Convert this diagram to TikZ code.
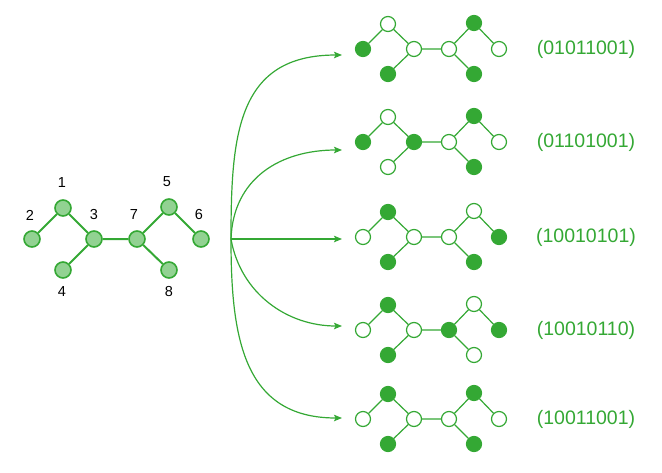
\documentclass[tikz,border=0pt]{standalone}
\usepackage{fontspec}
\setmainfont{Liberation Sans}
\usetikzlibrary{arrows.meta}
\definecolor{gr}{RGB}{52,168,52}
\definecolor{grl}{RGB}{146,210,146}
\tikzset{
  x=1pt,y=1pt,
  big/.style={circle,draw=gr,fill=grl,line width=1.6pt,minimum size=16pt,inner sep=0pt},
  bigedge/.style={gr,line width=2pt},
  lab/.style={font=\fontsize{14.5}{16}\selectfont,text=black},
  s0/.style={circle,draw=gr,fill=white,line width=1.2pt,minimum size=15pt,inner sep=0pt},
  s1/.style={circle,draw=gr,fill=gr,line width=1.2pt,minimum size=15pt,inner sep=0pt},
  smedge/.style={gr,line width=1.2pt},
  code/.style={font=\fontsize{19.5}{22}\selectfont,text=gr},
  arr/.style={gr,line width=1.2pt,-{Stealth[length=8pt,width=6.5pt,inset=1.5pt]}}
}
% #1 = row y, #2..#9 = bits for nodes 1..8
\newcommand\molrow[9]{%
  \begin{scope}[shift={(414,-#1)}]
    \node[s#2] (r#1n1) at (-26,25) {};
    \node[s#3] (r#1n2) at (-51,0) {};
    \node[s#4] (r#1n3) at (0,0) {};
    \node[s#5] (r#1n4) at (-26,-25) {};
    \node[s#6] (r#1n5) at (60,26) {};
    \node[s#7] (r#1n6) at (85,0) {};
    \node[s#8] (r#1n7) at (35,0) {};
    \node[s#9] (r#1n8) at (60,-25) {};
    \draw[smedge] (r#1n2)--(r#1n1) (r#1n1)--(r#1n3) (r#1n3)--(r#1n4) (r#1n3)--(r#1n7)
      (r#1n7)--(r#1n5) (r#1n5)--(r#1n6) (r#1n7)--(r#1n8);
    \node[code] (r#1code) at (172,0) {(#2#3#4#5#6#7#8#9)};
  \end{scope}}
\begin{document}
\begin{tikzpicture}
\useasboundingbox (0,0) rectangle (662,-472);
% left graph
\node[big] (n1) at (63,-208) {};
\node[big] (n2) at (32,-239) {};
\node[big] (n3) at (94,-239) {};
\node[big] (n4) at (63,-270) {};
\node[big] (n7) at (137,-239) {};
\node[big] (n5) at (169,-207) {};
\node[big] (n6) at (201,-239) {};
\node[big] (n8) at (169,-270) {};
\draw[bigedge] (n2)--(n1) (n1)--(n3) (n3)--(n4) (n3)--(n7) (n7)--(n5) (n5)--(n6) (n7)--(n8);
\node[lab] (l1) at (62,-183) {1};
\node[lab] (l2) at (30,-215) {2};
\node[lab] (l3) at (94,-215) {3};
\node[lab] (l7) at (134,-215) {7};
\node[lab] (l5) at (167,-182) {5};
\node[lab] (l6) at (199,-215) {6};
\node[lab] (l4) at (62,-292) {4};
\node[lab] (l8) at (169,-292) {8};
% right rows
\molrow{49}{0}{1}{0}{1}{1}{0}{0}{1}
\molrow{142}{0}{1}{1}{0}{1}{0}{0}{1}
\molrow{237}{1}{0}{0}{1}{0}{1}{0}{1}
\molrow{330}{1}{0}{0}{1}{0}{1}{1}{0}
\molrow{419}{1}{0}{0}{1}{1}{0}{0}{1}
% arrows
\coordinate (hub) at (231,-239);
\coordinate (a1) at (342,-55);
\coordinate (a2) at (342,-150);
\coordinate (a3) at (342,-239);
\coordinate (a4) at (342,-326);
\coordinate (a5) at (342,-418);
\draw[arr] (hub) to[out=90,in=180,looseness=1.25] (a1);
\draw[arr] (hub) to[out=88,in=180,looseness=1.1] (a2);
\draw[arr] (hub) -- (a3);
\draw[arr] (hub) to[out=-80,in=180,looseness=1.0] (a4);
\draw[arr] (hub) to[out=-90,in=180,looseness=1.2] (a5);
\end{tikzpicture}
\end{document}
